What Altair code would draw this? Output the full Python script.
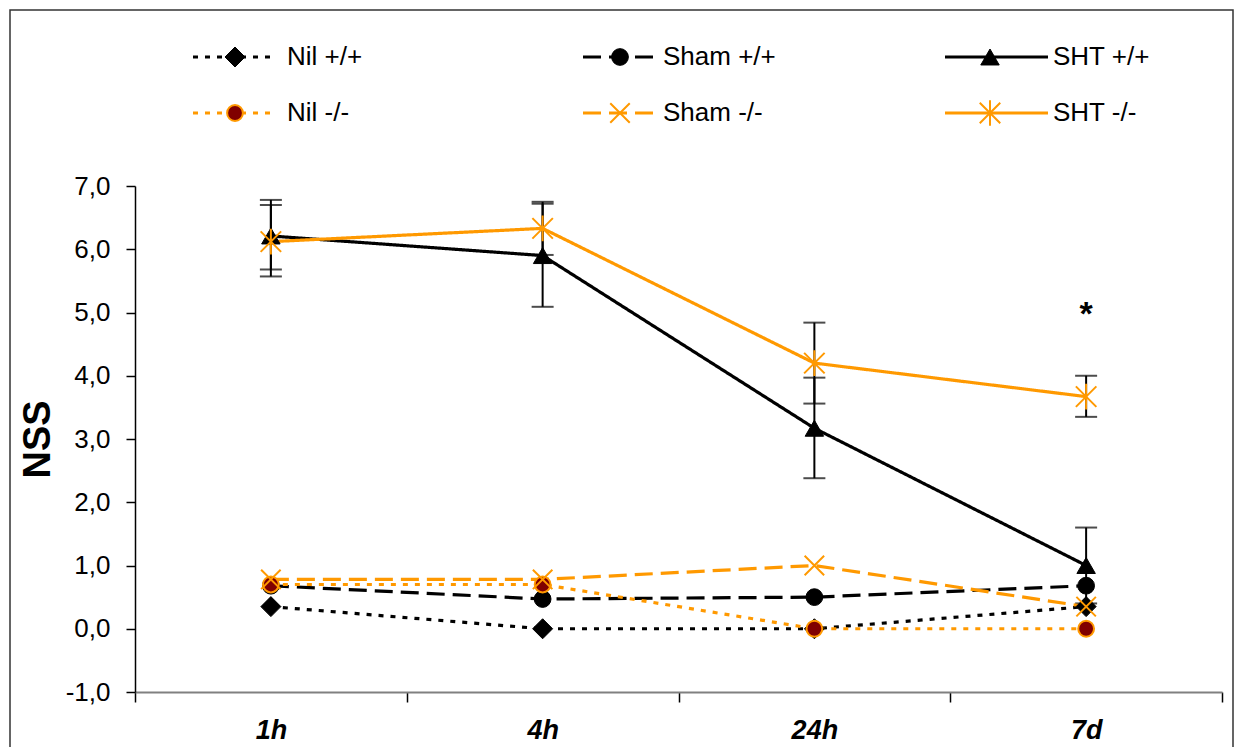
import altair as alt
import pandas as pd

times = ["1h", "4h", "24h", "7d"]
series = ["Nil +/+", "Sham +/+", "SHT +/+", "Nil -/-", "Sham -/-", "SHT -/-"]

nil_wt = [0.35, 0.0, 0.0, 0.35]
sham_wt = [0.68, 0.47, 0.50, 0.68]
sht_wt = [6.21, 5.90, 3.17, 1.00]
nil_ko = [0.70, 0.70, 0.0, 0.0]
sham_ko = [0.78, 0.78, 1.0, 0.35]
sht_ko = [6.12, 6.33, 4.20, 3.67]

sht_wt_low = [5.68, 5.09, 2.38, 0.40]
sht_wt_high = [6.78, 6.72, 3.97, 1.60]
sht_ko_low = [5.57, 5.91, 3.56, 3.35]
sht_ko_high = [6.70, 6.75, 4.84, 4.00]

star_time = ["7d"]
star_value = [5.05]

y_ticks = [-1, 0, 1, 2, 3, 4, 5, 6, 7]

values = [nil_wt, sham_wt, sht_wt, nil_ko, sham_ko, sht_ko]
rows = []
for s, vals in zip(series, values):
    for t, v in zip(times, vals):
        rows.append({"series": s, "time": t, "value": v})
df = pd.DataFrame(rows)

err_rows = []
for t, lo, hi in zip(times, sht_wt_low, sht_wt_high):
    err_rows.append({"series": "SHT +/+", "time": t, "low": lo, "high": hi})
for t, lo, hi in zip(times, sht_ko_low, sht_ko_high):
    err_rows.append({"series": "SHT -/-", "time": t, "low": lo, "high": hi})
err_df = pd.DataFrame(err_rows)

star_df = pd.DataFrame({"time": star_time, "value": star_value})

ORANGE = "#FF9900"
FONT = "Liberation Sans"
X_PATH = "M-1,-1L1,1M-1,1L1,-1"
AST_PATH = "M-1,-1L1,1M-1,1L1,-1M0,-1.25L0,1.25"

style = {
    "Nil +/+": dict(color="black", dash=[5, 7], shape="diamond", fill="black", stroke="black", size=400, sw=1),
    "Sham +/+": dict(color="black", dash=[18, 8], shape="circle", fill="black", stroke="black", size=280, sw=1),
    "SHT +/+": dict(color="black", dash=[1, 0], shape="triangle-up", fill="black", stroke="black", size=340, sw=1),
    "Nil -/-": dict(color=ORANGE, dash=[5, 7], shape="circle", fill="#800000", stroke=ORANGE, size=250, sw=2),
    "Sham -/-": dict(color=ORANGE, dash=[18, 8], shape=X_PATH, fill="transparent", stroke=ORANGE, size=380, sw=2),
    "SHT -/-": dict(color=ORANGE, dash=[1, 0], shape=AST_PATH, fill="transparent", stroke=ORANGE, size=420, sw=2),
}

x_enc = alt.X("time:N", sort=times, scale=alt.Scale(domain=times, paddingInner=0, paddingOuter=0),
              axis=alt.Axis(title=None, tickBand="extent", labelFont=FONT, labelFontSize=27,
                            labelFontWeight="bold", labelFontStyle="italic", labelColor="black",
                            labelPadding=15, tickSize=10, tickColor="black", tickWidth=1.5,
                            domainColor="#808080", domainWidth=2, labelAngle=0, grid=False))
y_scale = alt.Scale(domain=[-1, 7], nice=False, zero=False)
y_axis = alt.Axis(title="NSS",
                  values=y_ticks,
                  labelExpr="replace(replace(format(datum.value, '.1f'), '.', ','), '\u2212', '-')",
                  labelFont=FONT, labelFontSize=26, labelColor="black", labelPadding=16,
                  tickSize=9, tickColor="black", tickWidth=1.5, domainColor="black", domainWidth=1.5,
                  grid=False, titleFont=FONT, titleFontSize=38, titleFontWeight="bold", titleColor="black",
                  titleX=-78, titleY=253, titleAngle=-90, titleAlign="center", titleBaseline="bottom")

base = alt.Chart(df)
layers = []

# error bars
err_base = alt.Chart(err_df)
layers.append(err_base.mark_rule(color="black", strokeWidth=2).encode(
    x=x_enc, y=alt.Y("low:Q", scale=y_scale, axis=y_axis), y2="high:Q"))
layers.append(err_base.mark_tick(color="black", thickness=2, size=22, orient="horizontal").encode(
    x=alt.X("time:N", sort=times), y=alt.Y("low:Q")))
layers.append(err_base.mark_tick(color="black", thickness=2, size=22, orient="horizontal").encode(
    x=alt.X("time:N", sort=times), y=alt.Y("high:Q")))

for s in series:
    st = style[s]
    sub = base.transform_filter(alt.datum.series == s)
    layers.append(sub.mark_line(color=st["color"], strokeDash=st["dash"], strokeWidth=3.2).encode(
        x=alt.X("time:N", sort=times), y=alt.Y("value:Q")))
for s in series:
    st = style[s]
    sub = base.transform_filter(alt.datum.series == s)
    layers.append(sub.mark_point(shape=st["shape"], filled=False, fill=st["fill"], stroke=st["stroke"],
                                 strokeWidth=st["sw"], size=st["size"], opacity=1).encode(
        x=alt.X("time:N", sort=times), y=alt.Y("value:Q")))

layers.append(alt.Chart(star_df).mark_text(text="*", font=FONT, fontSize=34, fontWeight="bold",
                                           color="black", baseline="middle", dy=6).encode(
    x=alt.X("time:N", sort=times), y=alt.Y("value:Q")))

# legend (decoration, pixel placement relative to plot origin)
one = alt.Data(values=[{"k": 0}])
leg_pos = {
    "Nil +/+": (58, 137, 100, 152, -129),
    "Sham +/+": (448, 522, 485, 528, -129),
    "SHT +/+": (810, 913, 855, 918, -129),
    "Nil -/-": (58, 137, 100, 152, -73),
    "Sham -/-": (448, 522, 485, 528, -73),
    "SHT -/-": (810, 913, 855, 918, -73),
}
for s in series:
    st = style[s]
    x1, x2, xm, xt, yy = leg_pos[s]
    layers.append(alt.Chart(one).mark_rule(color=st["color"], strokeDash=st["dash"], strokeWidth=3.2).encode(
        x=alt.value(x1), x2=alt.value(x2), y=alt.value(yy)))
    layers.append(alt.Chart(one).mark_point(shape=st["shape"], filled=False, fill=st["fill"], stroke=st["stroke"],
                                            strokeWidth=st["sw"], size=st["size"], opacity=1).encode(
        x=alt.value(xm), y=alt.value(yy)))
    layers.append(alt.Chart(one).mark_text(text=s, font=FONT, fontSize=26, align="left", baseline="middle",
                                           color="black").encode(x=alt.value(xt), y=alt.value(yy)))

# outer frame
layers.append(alt.Chart(one).mark_rect(fill="transparent", stroke="#333333", strokeWidth=1.5).encode(
    x=alt.value(-125), x2=alt.value(1098), y=alt.value(-176), y2=alt.value(600)))

chart = alt.layer(*layers).properties(
    width=1087, height=506,
    background="white",
    autosize=alt.AutoSizeParams(type="none"),
    padding={"left": 127, "top": 178, "right": 14, "bottom": 55},
).configure_view(stroke="transparent", strokeWidth=0
).configure_axis(grid=False)

chart.save("out.html", embed_options={"renderer": "svg", "actions": False})
